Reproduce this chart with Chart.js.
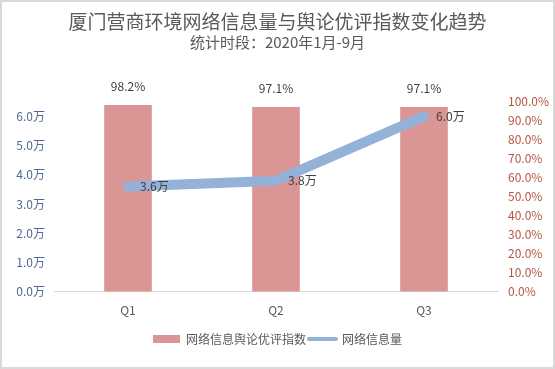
<!DOCTYPE html>
<html>
<head>
<meta charset="utf-8">
<script src="https://cdn.jsdelivr.net/npm/chart.js@4"></script>
<style>
  html, body { margin: 0; padding: 0; background: #fff; }
  #wrap { width: 555px; height: 369px; position: relative; }
</style>
</head>
<body>
<div id="wrap"><canvas id="chart" width="555" height="369"></canvas></div>
<script>
// data
const quarters = ['Q1', 'Q2', 'Q3'];
const praiseIndex = [98.2, 97.1, 97.1];   // 网络信息舆论优评指数 (%)
const infoVolume = [3.6, 3.8, 6.0];       // 网络信息量 (万)

const FONT = '"Noto Sans CJK SC", "Noto Sans", sans-serif';

// labels on bars / points, no datalabels plugin offline
const valueLabels = {
    id: 'valueLabels',
    afterDatasetsDraw(chart) {
        const ctx = chart.ctx;
        ctx.save();
        ctx.font = '12px ' + FONT;
        ctx.fillStyle = '#404040';
        chart.getDatasetMeta(0).data.forEach((bar, i) => {
            ctx.textAlign = 'center';
            ctx.textBaseline = 'middle';
            ctx.fillText(praiseIndex[i].toFixed(1) + '%', bar.x, bar.y - 19);
        });
        chart.getDatasetMeta(1).data.forEach((pt, i) => {
            ctx.textAlign = 'left';
            ctx.textBaseline = 'middle';
            ctx.fillText(infoVolume[i].toFixed(1) + '万', pt.x + 12, pt.y);
        });
        ctx.restore();
    }
};

// thin grey frame around the picture
const frame = {
    id: 'frame',
    afterDraw(chart) {
        const ctx = chart.ctx;
        ctx.save();
        ctx.strokeStyle = '#d9d9d9';
        ctx.lineWidth = 2;
        ctx.strokeRect(1, 1, chart.width - 2, chart.height - 2);
        ctx.restore();
    }
};

new Chart(document.getElementById('chart'), {
    data: {
        labels: quarters,
        datasets: [
            {
                type: 'bar',
                label: '网络信息舆论优评指数',
                data: praiseIndex,
                yAxisID: 'y1',
                backgroundColor: '#d99694',
                barThickness: 47,
                order: 2
            },
            {
                type: 'line',
                label: '网络信息量',
                data: infoVolume,
                yAxisID: 'y',
                borderColor: '#94b1d7',
                backgroundColor: '#94b1d7',
                borderWidth: 10,
                borderCapStyle: 'round',
                borderJoinStyle: 'round',
                pointRadius: 0,
                tension: 0,
                order: 1
            }
        ]
    },
    options: {
        responsive: false,
        animation: false,
        layout: { padding: { top: 0, bottom: 14, left: 0, right: 0 } },
        plugins: {
            title: {
                display: true,
                text: '厦门营商环境网络信息量与舆论优评指数变化趋势',
                color: '#595959',
                font: { family: FONT, size: 19, weight: 'normal' },
                padding: { top: 10, bottom: 0 }
            },
            subtitle: {
                display: true,
                text: '统计时段：2020年1月-9月',
                color: '#595959',
                font: { family: FONT, size: 15, weight: 'normal' },
                padding: { top: 0, bottom: 51 }
            },
            legend: {
                position: 'bottom',
                labels: {
                    usePointStyle: true,
                    pointStyleWidth: 27,
                    boxWidth: 27,
                    boxHeight: 8,
                    padding: 3,
                    color: '#595959',
                    font: { family: FONT, size: 12 },
                    sort: (a, b) => a.datasetIndex - b.datasetIndex,
                    generateLabels: chart => {
                        const items = Chart.defaults.plugins.legend.labels.generateLabels(chart);
                        items.forEach(it => {
                            if (it.datasetIndex === 1) {
                                it.pointStyle = 'line';
                                it.lineWidth = 4;
                                it.lineCap = 'round';
                            } else {
                                it.pointStyle = 'rect';
                                it.lineWidth = 0;
                            }
                        });
                        return items;
                    }
                }
            },
            tooltip: { enabled: false }
        },
        scales: {
            x: {
                grid: { display: false, drawTicks: false },
                border: { color: '#d9d9d9', width: 1 },
                ticks: { color: '#595959', font: { family: FONT, size: 12 }, padding: 12 }
            },
            y: {
                position: 'left',
                min: 0,
                max: 6.5,
                grid: { display: false, drawTicks: false },
                border: { display: false },
                ticks: {
                    stepSize: 1,
                    padding: 9,
                    color: '#4f6a94',
                    font: { family: FONT, size: 12 },
                    callback: v => Number.isInteger(v) ? v.toFixed(1) + '万' : ''
                },
                afterFit: s => { s.width = 54; }
            },
            y1: {
                position: 'right',
                min: 0,
                max: 100,
                grid: { display: false, drawTicks: false },
                border: { display: false },
                ticks: {
                    stepSize: 10,
                    padding: 10,
                    color: '#b4553d',
                    font: { family: FONT, size: 12 },
                    callback: v => v.toFixed(1) + '%'
                },
                afterFit: s => { s.width = 57; }
            }
        }
    },
    plugins: [valueLabels, frame]
});
</script>
</body>
</html>
